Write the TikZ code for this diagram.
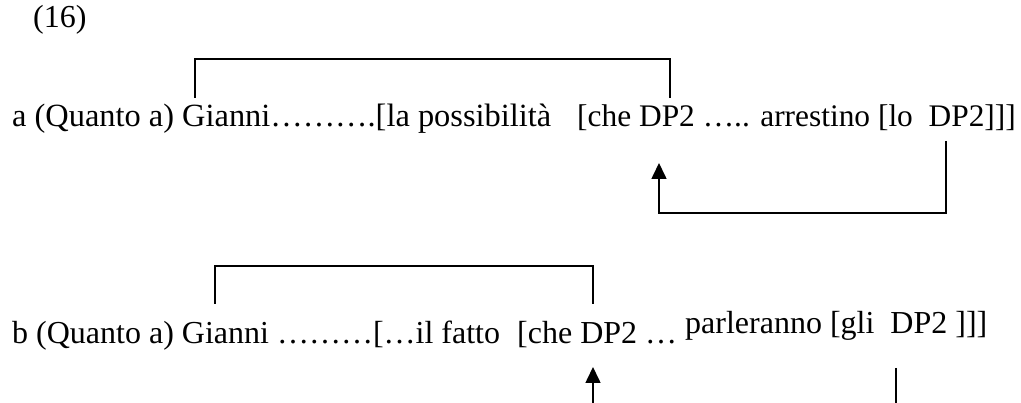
\documentclass[tikz,border=0pt]{standalone}
\usepackage{fontspec}
\setmainfont{Liberation Serif}
\usetikzlibrary{arrows.meta}
\begin{document}
\begin{tikzpicture}[x=1pt,y=-1pt,
  txt/.style={inner sep=0pt,anchor=base west,font=\fontsize{32}{38}\selectfont},
  link/.style={line width=1.6pt,line join=miter},
  arr/.style={line width=1.6pt,line join=miter,-{Triangle[width=15pt,length=16pt]}}]
\useasboundingbox[fill=white] (0,0) rectangle (1021,403);
\clip (0,0) rectangle (1021,403);
% texts
\node[txt] (n16) at (33,28) {(16)};
\node[txt,font=\fontsize{32.4}{38}\selectfont] (a1) at (12,127) {a (Quanto a) Gianni……….[la possibilità};
\node[txt,font=\fontsize{31.4}{38}\selectfont] (a2) at (577,127) {[che DP2 ….. arrestino [lo\ \ DP2]]]};
\node[txt] (b1) at (12,344) {b (Quanto a) Gianni ………[…il fatto};
\node[txt] (b2) at (517,344) {[che DP2 …};
\node[txt] (b3) at (685,334) {parleranno [gli\ \ DP2 ]]]};
% connector points
\coordinate (aL) at (195,98);
\coordinate (aR) at (670,98);
\coordinate (aTop) at (0,59);
\coordinate (aSrc) at (946,141);
\coordinate (aTgt) at (659,163);
\coordinate (aBot) at (0,213);
\coordinate (bL) at (215,304);
\coordinate (bR) at (593,304);
\coordinate (bTop) at (0,266);
\coordinate (bSrc) at (896,368);
\coordinate (bTgt) at (593,367);
\coordinate (bBot) at (0,430);
% line a
\draw[link] (aL) -- (aL |- aTop) -- (aR |- aTop) -- (aR);
\draw[arr] (aSrc) -- (aSrc |- aBot) -- (aTgt |- aBot) -- (aTgt);
% line b
\draw[link] (bL) -- (bL |- bTop) -- (bR |- bTop) -- (bR);
\draw[arr] (bSrc) -- (bSrc |- bBot) -- (bTgt |- bBot) -- (bTgt);
\end{tikzpicture}
\end{document}
